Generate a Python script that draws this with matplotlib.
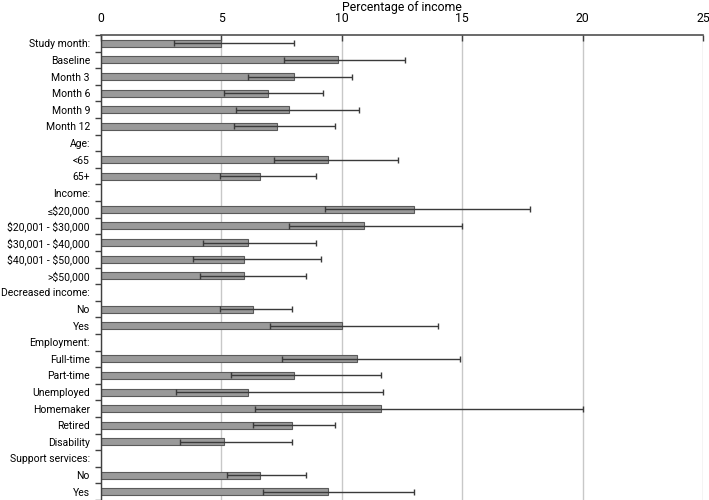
import matplotlib.pyplot as plt
import numpy as np

# --- Data ---
labels = [
    "Study month:", "Baseline", "Month 3", "Month 6", "Month 9", "Month 12",
    "Age:", "<65", "65+",
    "Income:", "\u2264\\$20,000", "\\$20,001 - \\$30,000", "\\$30,001 - \\$40,000",
    "\\$40,001 - \\$50,000", ">\\$50,000",
    "Decreased income:", "No", "Yes",
    "Employment:", "Full-time", "Part-time", "Unemployed", "Homemaker",
    "Retired", "Disability",
    "Support services:", "No", "Yes",
]
# NaN = header row with no bar
values = [5.0, 9.83, 8.01, 6.92, 7.82, 7.32,
          np.nan, 9.44, 6.62,
          np.nan, 13.01, 10.92, 6.12, 5.93, 5.93,
          np.nan, 6.33, 10.02,
          np.nan, 10.63, 8.01, 6.12, 11.63, 7.93, 5.12,
          np.nan, 6.62, 9.44]
ci_low = [3.02, 7.61, 6.12, 5.12, 5.62, 5.54,
          np.nan, 7.20, 4.93,
          np.nan, 9.32, 7.82, 4.22, 3.82, 4.11,
          np.nan, 4.93, 7.0,
          np.nan, 7.53, 5.41, 3.10, 6.41, 6.33, 3.29,
          np.nan, 5.22, 6.73]
ci_high = [8.0, 12.62, 10.44, 9.22, 10.73, 9.72,
           np.nan, 12.35, 8.92,
           np.nan, 17.82, 15.0, 8.92, 9.12, 8.51,
           np.nan, 7.92, 14.0,
           np.nan, 14.9, 11.63, 11.71, 20.0, 9.72, 7.92,
           np.nan, 8.51, 13.01]

values = np.array(values)
ci_low = np.array(ci_low)
ci_high = np.array(ci_high)
y = np.arange(len(labels))
has_bar = ~np.isnan(values)

plt.rcParams['font.family'] = ['Roboto', 'DejaVu Sans']

fig = plt.figure(figsize=(7.09, 5.0), dpi=100)
ax = fig.add_axes([0.1425, 0.0, 0.849, 0.93])

ax.barh(y[has_bar], values[has_bar], height=0.42, color='#9a9a9a',
        edgecolor='#5a5a5a', linewidth=0.8, zorder=2)
err = np.vstack([values - ci_low, ci_high - values])[:, has_bar]
ax.errorbar(values[has_bar], y[has_bar], xerr=err, fmt='none',
            ecolor='#3a3a3a', elinewidth=1.0, capsize=2.5, capthick=1.0, zorder=3)

ax.set_xlim(0, 25)
ax.set_ylim(len(labels) - 0.5, -0.5)
ax.set_xticks([0, 5, 10, 15, 20, 25])
ax.xaxis.tick_top()
ax.xaxis.set_label_position('top')
ax.set_xlabel("Percentage of income", fontsize=8.8, labelpad=1)
ax.tick_params(axis='x', direction='in', length=4, width=1, color='#404040',
               labelsize=8.8, pad=7)
ax.grid(axis='x', color='#c8c8c8', linewidth=1, zorder=0)

# category labels centred on rows, tick marks on row boundaries
ax.set_yticks(y)
ax.set_yticklabels(labels, fontsize=7.5)
ax.tick_params(axis='y', length=0, pad=8)
ax.set_yticks(np.arange(len(labels) + 1) - 0.5, minor=True)
ax.tick_params(axis='y', which='minor', direction='out', length=4, width=1, color='#404040')

for side in ['right', 'bottom']:
    ax.spines[side].set_visible(False)
ax.spines['top'].set_color('#505050')
ax.spines['top'].set_linewidth(1.2)
ax.spines['left'].set_color('#404040')
ax.spines['left'].set_linewidth(1.0)

fig.savefig("out.png", dpi=100)
